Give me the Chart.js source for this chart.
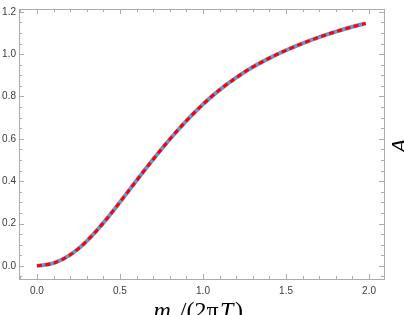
<!DOCTYPE html>
<html>
<head>
<meta charset="utf-8">
<script src="https://cdn.jsdelivr.net/npm/chart.js@4.4.1/dist/chart.umd.min.js"></script>
<style>
  html, body { margin: 0; padding: 0; background: #fff; }
  #wrap { width: 404px; height: 315px; position: relative; }
</style>
</head>
<body>
<div id="wrap"><canvas id="c" width="404" height="315"></canvas></div>
<script>
// Data
const xValues = [0, 0.1, 0.2, 0.3, 0.4, 0.5, 0.6, 0.7, 0.8, 0.9, 1.0, 1.1, 1.2, 1.3, 1.4, 1.5, 1.6, 1.7, 1.8, 1.9, 1.98];
const yValues = [0, 0.013, 0.052, 0.117, 0.203, 0.301, 0.403, 0.503, 0.598, 0.685, 0.763, 0.831, 0.889, 0.939, 0.981, 1.018, 1.051, 1.080, 1.106, 1.129, 1.145];
const xTicks = [0, 0.5, 1.0, 1.5, 2.0];
const yTicks = [0, 0.2, 0.4, 0.6, 0.8, 1.0, 1.2];
const xTitle = ["m", "s", "/(2π", "T", ")"];
const yTitle = "A";

const pts = xValues.map((x, i) => ({x: x, y: yValues[i]}));

const frameColor = '#ababab';
const labelColor = '#3c3c3c';

const framePlugin = {
  id: 'frame',
  afterDatasetsDraw(chart) {
    const ctx = chart.ctx;
    const a = chart.chartArea;
    const xs = chart.scales.x, ys = chart.scales.y;
    ctx.save();
    ctx.strokeStyle = frameColor;
    ctx.lineWidth = 1;
    ctx.strokeRect(Math.round(a.left) + 0.5, Math.round(a.top) + 0.5, Math.round(a.right - a.left), Math.round(a.bottom - a.top));
    ctx.beginPath();
    for (let k = -1; k <= 20; k++) {
      const v = k / 10;
      const px = Math.round(xs.getPixelForValue(v)) + 0.5;
      if (px < a.left || px > a.right) continue;
      const len = (k % 5 === 0) ? 5 : 3;
      ctx.moveTo(px, a.bottom); ctx.lineTo(px, a.bottom - len);
      ctx.moveTo(px, a.top); ctx.lineTo(px, a.top + len);
    }
    for (let k = -1; k <= 24; k++) {
      const v = k * 0.05;
      const py = Math.round(ys.getPixelForValue(v)) + 0.5;
      if (py < a.top || py > a.bottom) continue;
      const len = (k % 4 === 0) ? 5 : 3;
      ctx.moveTo(a.left, py); ctx.lineTo(a.left + len, py);
      ctx.moveTo(a.right, py); ctx.lineTo(a.right - len, py);
    }
    ctx.stroke();
    ctx.restore();
  },
  afterDraw(chart) {
    const ctx = chart.ctx;
    ctx.save();
    ctx.fillStyle = '#000';
    ctx.textBaseline = 'alphabetic';
    const big = 'italic 24px "Liberation Serif", "DejaVu Serif", serif';
    const upr = '24px "Liberation Serif", "DejaVu Serif", serif';
    const sub = 'italic 15px "Liberation Serif", "DejaVu Serif", serif';
    const base = 318;
    const parts = [
      {t: xTitle[0], f: big, dy: 0},
      {t: xTitle[1], f: sub, dy: 5},
      {t: xTitle[2], f: upr, dy: 0},
      {t: xTitle[3], f: big, dy: 0},
      {t: xTitle[4], f: upr, dy: 0}
    ];
    let total = 0;
    parts.forEach(p => { ctx.font = p.f; p.w = ctx.measureText(p.t).width; total += p.w + 1.5; });
    let x = 199 - total / 2;
    parts.forEach(p => { ctx.font = p.f; ctx.fillText(p.t, x, base + p.dy); x += p.w + 1.5; });
    ctx.translate(407, 146);
    ctx.rotate(-Math.PI / 2);
    ctx.font = 'italic 24px "Liberation Serif", "DejaVu Serif", serif';
    ctx.textAlign = 'center';
    ctx.fillText(yTitle, 0, 0);
    ctx.restore();
  }
};

new Chart(document.getElementById('c'), {
  type: 'line',
  data: {
    datasets: [
      {
        data: pts,
        borderColor: '#ff0000',
        borderWidth: 3,
        borderDash: [5, 3.5],
        pointRadius: 0,
        cubicInterpolationMode: 'monotone',
        fill: false,
        order: 0
      },
      {
        data: pts,
        borderColor: '#6f93cc',
        borderWidth: 4,
        pointRadius: 0,
        cubicInterpolationMode: 'monotone',
        fill: false,
        order: 1
      }
    ]
  },
  options: {
    responsive: false,
    animation: false,
    events: [],
    layout: { padding: { top: 5, right: 20, left: 0, bottom: 0 } },
    plugins: { legend: { display: false }, tooltip: { enabled: false } },
    scales: {
      x: {
        type: 'linear',
        min: -0.108,
        max: 2.09,
        afterBuildTicks(s) { s.ticks = xTicks.map(v => ({value: v})); },
        afterFit(s) { s.height = 36; },
        grid: { display: false, drawTicks: false },
        border: { display: false },
        ticks: {
          padding: 6,
          color: labelColor,
          font: { family: '"Liberation Sans", Arial, sans-serif', size: 10 },
          callback: v => Number(v).toFixed(1),
          maxRotation: 0,
          autoSkip: false
        }
      },
      y: {
        type: 'linear',
        min: -0.062,
        max: 1.213,
        afterBuildTicks(s) { s.ticks = yTicks.map(v => ({value: v})); },
        afterFit(s) { s.width = 19; },
        grid: { display: false, drawTicks: false },
        border: { display: false },
        ticks: {
          padding: 3,
          color: labelColor,
          font: { family: '"Liberation Sans", Arial, sans-serif', size: 10 },
          callback: v => Number(v).toFixed(1),
          autoSkip: false
        }
      }
    }
  },
  plugins: [framePlugin]
});
</script>
</body>
</html>
